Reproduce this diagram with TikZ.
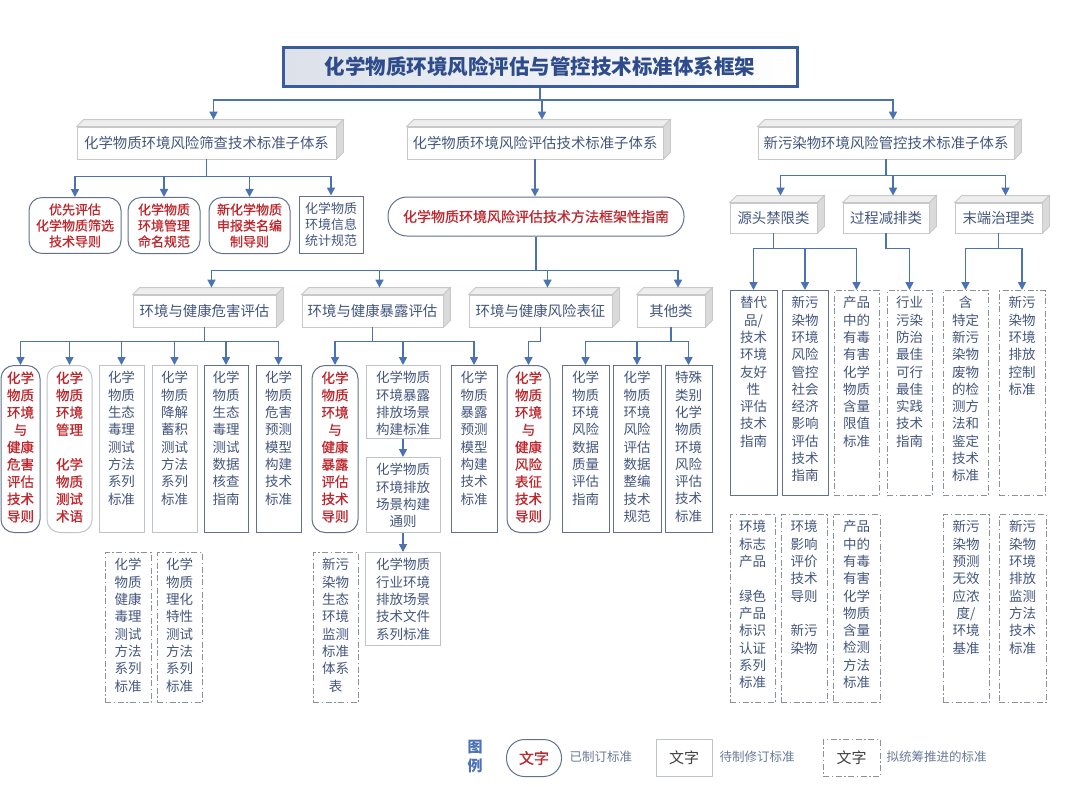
\documentclass[tikz,border=0pt]{standalone}
\usepackage{fontspec}
\setmainfont{Noto Sans CJK SC}
\newfontfamily\redfont{Noto Sans CJK SC}[FakeBold=0.7]
\usetikzlibrary{arrows.meta}

\definecolor{linkblue}{HTML}{4A72B4}
\definecolor{inkblue}{HTML}{44567E}
\definecolor{stdred}{HTML}{C0272D}
\definecolor{edgedark}{HTML}{62718F}
\definecolor{edgelight}{HTML}{BFC3CB}
\definecolor{edgeidea}{HTML}{8A909C}
\definecolor{slabedge}{HTML}{C8C8C8}
\definecolor{slabtop}{HTML}{EEEEEE}
\definecolor{slabside}{HTML}{DADADA}
\definecolor{titleblue}{HTML}{2E4C8C}
\definecolor{titleedge}{HTML}{3A5C9E}
\definecolor{titleshade}{HTML}{DCE1EA}
\definecolor{legendgray}{HTML}{6B7B98}

\newcommand{\boxfont}{\fontsize{13.5}{17.3}\selectfont}
\newcommand{\slabfont}{\fontsize{14.4}{17}\selectfont}
% tall column of text, top aligned: width, height, lines
\newcommand{\colcell}[3]{\parbox[t][#2pt][t]{#1pt}{\centering #3}}
% top and side faces of a raised header box
\newcommand{\slabfaces}[1]{%
  \filldraw[slabedge, fill=slabtop, line width=0.8pt] (#1.north west) -- ++(7,-7) -- ([shift={(7,-7)}]#1.north east) -- (#1.north east) -- cycle;
  \filldraw[slabedge, fill=slabside, line width=0.8pt] (#1.north east) -- ++(7,-7) -- ([shift={(7,-7)}]#1.south east) -- (#1.south east) -- cycle;}

\tikzset{
  every node/.style={font=\boxfont, text=inkblue},
  link/.style={draw=linkblue, line width=1.6pt, -{Triangle[width=8pt,length=8pt]}},
  linkslab/.style={link, shorten >=7pt},
  titlebox/.style={draw=titleedge, line width=3pt, left color=titleshade, right color=white,
    font=\fontsize{20.5}{24}\selectfont\bfseries, text=titleblue},
  slab/.style={draw=slabedge, line width=0.8pt, fill=white, font=\slabfont, text=inkblue, inner sep=0pt},
  stdbox/.style={draw=edgedark, line width=1pt, rounded corners=13pt, fill=white, text=stdred,
    execute at begin node=\redfont, inner xsep=0pt, inner ysep=6pt},
  planbox/.style={draw=edgelight, line width=1pt, fill=white, inner xsep=0pt, inner ysep=6pt},
  darkedge/.style={draw=edgedark},
  ideabox/.style={draw=edgeidea, line width=1pt, dash pattern=on 6pt off 2.5pt on 1.5pt off 2.5pt, fill=white, inner xsep=0pt, inner ysep=6pt},
}

\begin{document}
\begin{tikzpicture}[x=1pt,y=-1pt]
\useasboundingbox[fill=white] (0,0) rectangle (1080,793);

\node[titlebox, minimum width=514pt, minimum height=39pt] (title) at (540,66.5) {化学物质环境风险评估与管控技术标准体系框架};

% sub-systems
\node[slab, minimum width=259pt, minimum height=32pt] (l2a) at (206.5,143) {化学物质环境风险筛查技术标准子体系};
\node[slab, minimum width=256pt, minimum height=32pt] (l2b) at (535,143) {化学物质环境风险评估技术标准子体系};
\node[slab, minimum width=256pt, minimum height=32pt] (l2c) at (886,143) {新污染物环境风险管控技术标准子体系};
\slabfaces{l2a}
\slabfaces{l2b}
\slabfaces{l2c}

% screening
\node[stdbox, minimum width=92pt, minimum height=55pt, align=center, font=\fontsize{13}{16}\selectfont] (ls1) at (75,225.5) {优先评估\\化学物质筛选\\技术导则};
\node[stdbox, minimum width=72pt, minimum height=55pt, align=center, font=\fontsize{13}{16}\selectfont] (ls2) at (164,225.5) {化学物质\\环境管理\\命名规范};
\node[stdbox, minimum width=81pt, minimum height=55pt, align=center, font=\fontsize{13}{16}\selectfont] (ls3) at (249.5,225.5) {新化学物质\\申报类名编\\制导则};
\node[planbox, darkedge, minimum width=64pt, minimum height=57pt, align=center, font=\fontsize{13}{16}\selectfont] (ls4) at (331,224.5) {化学物质\\环境信息\\统计规范};

% assessment
\node[stdbox, rounded corners=19pt, minimum width=296pt, minimum height=39pt, font=\fontsize{14}{17}\selectfont] (g1) at (536,216.5) {化学物质环境风险评估技术方法框架性指南};

\node[slab, minimum width=143pt, minimum height=32pt] (l3a) at (204.5,311) {环境与健康危害评估};
\node[slab, minimum width=141pt, minimum height=32pt] (l3b) at (372.5,311) {环境与健康暴露评估};
\node[slab, minimum width=143pt, minimum height=32pt] (l3c) at (540.5,311) {环境与健康风险表征};
\node[slab, minimum width=68pt, minimum height=32pt] (l3d) at (671,311) {其他类};
\slabfaces{l3a}
\slabfaces{l3b}
\slabfaces{l3c}
\slabfaces{l3d}

\node[stdbox, anchor=north] (c1) at (20.5,365) {\colcell{39}{155}{化学\\物质\\环境\\与\\健康\\危害\\评估\\技术\\导则}};
\node[stdbox, draw=edgelight, anchor=north] (c2) at (69.5,365) {\colcell{45}{155}{化学\\物质\\环境\\管理\\ \mbox{}\\ 化学\\物质\\测试\\术语}};
\node[planbox, anchor=north] (c3) at (121.5,365) {\colcell{45}{155}{化学\\物质\\生态\\毒理\\测试\\方法\\系列\\标准}};
\node[planbox, anchor=north] (c4) at (174.5,365) {\colcell{45}{155}{化学\\物质\\降解\\蓄积\\测试\\方法\\系列\\标准}};
\node[planbox, darkedge, anchor=north] (c5) at (226,365) {\colcell{44}{155}{化学\\物质\\生态\\毒理\\测试\\数据\\核查\\指南}};
\node[planbox, darkedge, anchor=north] (c6) at (278.5,365) {\colcell{45}{155}{化学\\物质\\危害\\预测\\模型\\构建\\技术\\标准}};
\node[ideabox, anchor=north] (d1) at (128,552) {\colcell{46}{138}{化学\\物质\\健康\\毒理\\测试\\方法\\系列\\标准}};
\node[ideabox, anchor=north] (d2) at (179.5,552) {\colcell{45}{138}{化学\\物质\\理化\\特性\\测试\\方法\\系列\\标准}};

\node[stdbox, anchor=north] (e1) at (335,365) {\colcell{46}{155}{化学\\物质\\环境\\与\\健康\\暴露\\评估\\技术\\导则}};
\node[planbox, anchor=north] (e2) at (403,365) {\colcell{74}{61}{化学物质\\环境暴露\\排放场景\\构建标准}};
\node[planbox, anchor=north] (e3) at (403,457) {\colcell{74}{63}{化学物质\\环境排放\\场景构建\\通则}};
\node[planbox, anchor=north] (e5) at (403,552) {\colcell{75}{81}{化学物质\\行业环境\\排放场景\\技术文件\\系列标准}};
\node[planbox, darkedge, anchor=north] (e4) at (474,365) {\colcell{46}{155}{化学\\物质\\暴露\\预测\\模型\\构建\\技术\\标准}};
\node[ideabox, anchor=north] (d3) at (335.5,552) {\colcell{45}{138}{新污\\染物\\生态\\环境\\监测\\标准\\体系\\表}};

\node[stdbox, anchor=north] (r1) at (528.5,365) {\colcell{43}{155}{化学\\物质\\环境\\与\\健康\\风险\\表征\\技术\\导则}};

\node[planbox, darkedge, anchor=north] (o1) at (585.5,365) {\colcell{47}{155}{化学\\物质\\环境\\风险\\数据\\质量\\评估\\指南}};
\node[planbox, darkedge, anchor=north] (o2) at (637,365) {\colcell{48}{155}{化学\\物质\\环境\\风险\\评估\\数据\\整编\\技术\\规范}};
\node[planbox, darkedge, anchor=north] (o3) at (688.5,365) {\colcell{47}{155}{特殊\\类别\\化学\\物质\\环境\\风险\\评估\\技术\\标准}};

% emerging pollutants
\node[slab, minimum width=87pt, minimum height=30pt] (h1) at (773.5,218) {源头禁限类};
\node[slab, minimum width=86pt, minimum height=30pt] (h2) at (886,218) {过程减排类};
\node[slab, minimum width=87pt, minimum height=30pt] (h3) at (998.5,218) {末端治理类};
\slabfaces{h1}
\slabfaces{h2}
\slabfaces{h3}

\node[planbox, darkedge, anchor=north] (s1) at (753.5,290) {\colcell{47}{193}{替代\\品/\\技术\\环境\\友好\\性\\评估\\技术\\指南}};
\node[planbox, darkedge, anchor=north] (s2) at (805,290) {\colcell{46}{193}{新污\\染物\\环境\\风险\\管控\\社会\\经济\\影响\\评估\\技术\\指南}};
\node[ideabox, anchor=north] (s3) at (856.5,290) {\colcell{45}{193}{产品\\中的\\有毒\\有害\\化学\\物质\\含量\\限值\\标准}};
\node[ideabox, anchor=north] (p1) at (909.5,290) {\colcell{45}{193}{行业\\污染\\防治\\最佳\\可行\\最佳\\实践\\技术\\指南}};
\node[ideabox, anchor=north] (t1) at (965.5,290) {\colcell{45}{193}{含\\特定\\新污\\染物\\废物\\的检\\测方\\法和\\鉴定\\技术\\标准}};
\node[ideabox, anchor=north] (t2) at (1022,290) {\colcell{46}{193}{新污\\染物\\环境\\排放\\控制\\标准}};

\node[ideabox, anchor=north] (u1) at (752.5,514) {\colcell{45}{176}{环境\\标志\\产品\\ \mbox{}\\ 绿色\\产品\\标识\\认证\\系列\\标准}};
\node[ideabox, anchor=north] (u2) at (804,514) {\colcell{46}{176}{环境\\影响\\评价\\技术\\导则\\ \mbox{}\\ 新污\\染物}};
\node[ideabox, anchor=north] (u3) at (856.5,514) {\colcell{47}{176}{产品\\中的\\有毒\\有害\\化学\\物质\\含量\\检测\\方法\\标准}};
\node[ideabox, anchor=north] (u4) at (966,514) {\colcell{46}{176}{新污\\染物\\预测\\无效\\应浓\\度/\\环境\\基准}};
\node[ideabox, anchor=north] (u5) at (1022.5,514) {\colcell{47}{176}{新污\\染物\\环境\\排放\\监测\\方法\\技术\\标准}};

% connectors
\draw[linkslab] (title.south) -- ++(0,12.5) -| ([xshift=7pt]l2a.north);
\draw[linkslab] (title.south) -- ++(0,12.5) -| ([xshift=7pt]l2b.north);
\draw[linkslab] (title.south) -- ++(0,12.5) -| ([xshift=7pt]l2c.north);

\draw[link] (l2a.south) -- ++(0,17) -| (ls1.north);
\draw[link] (l2a.south) -- ++(0,17) -| (ls2.north);
\draw[link] (l2a.south) -- ++(0,17) -| (ls3.north);
\draw[link] (l2a.south) -- ++(0,17) -| (ls4.north);

\draw[link] (l2b.south) -- (l2b.south |- g1.north);
\draw[linkslab] (g1.south) -- ++(0,34) -| ([xshift=7pt]l3a.north);
\draw[linkslab] (g1.south) -- ++(0,34) -| ([xshift=7pt]l3b.north);
\draw[linkslab] (g1.south) -- ++(0,34) -| ([xshift=7pt]l3c.north);
\draw[linkslab] (g1.south) -- ++(0,34) -| ([xshift=7pt]l3d.north);

\draw[link] (l3a.south) -- ++(0,14) -| (c1.north);
\draw[link] (l3a.south) -- ++(0,14) -| (c2.north);
\draw[link] (l3a.south) -- ++(0,14) -| (c3.north);
\draw[link] (l3a.south) -- ++(0,14) -| (c4.north);
\draw[link] (l3a.south) -- ++(0,14) -| (c5.north);
\draw[link] (l3a.south) -- ++(0,14) -| (c6.north);

\draw[link] (l3b.south) -- ++(0,14) -| (e1.north);
\draw[link] (l3b.south) -- ++(0,14) -| (e2.north);
\draw[link] (l3b.south) -- ++(0,14) -| (e4.north);
\draw[link] (e2.south) -- (e3.north);
\draw[link] (e3.south) -- (e5.north);

\draw[link] (l3c.south) -- ++(0,14) -| (r1.north);

\draw[link] (l3d.south) -- ++(0,14) -| (o1.north);
\draw[link] (l3d.south) -- ++(0,14) -| (o2.north);
\draw[link] (l3d.south) -- ++(0,14) -| (o3.north);

\draw[linkslab] (l2c.south) -- ++(0,16) -| ([xshift=7pt]h1.north);
\draw[linkslab] (l2c.south) -- ++(0,16) -| ([xshift=7pt]h2.north);
\draw[linkslab] (l2c.south) -- ++(0,16) -| ([xshift=7pt]h3.north);

\draw[link] (h1.south) -- ++(0,15) -| (s1.north);
\draw[link] (h1.south) -- ++(0,15) -| (s2.north);
\draw[link] (h1.south) -- ++(0,15) -| (s3.north);
\draw[link] (h2.south) -- ++(0,15) -| (p1.north);
\draw[link] (h3.south) -- ++(0,15) -| (t1.north);
\draw[link] (h3.south) -- ++(0,15) -| (t2.north);

% legend
\node[font=\fontsize{15}{19}\selectfont\bfseries, text=linkblue, align=center] (legtitle) at (475,757) {图\\例};
\node[stdbox, rounded corners=18pt, minimum width=55pt, minimum height=37pt, font=\fontsize{15}{18}\selectfont] (leg1) at (534,758) {文字};
\node[font=\fontsize{12.5}{15}\selectfont, text=legendgray, anchor=west] (leg1t) at (566,757) {已制订标准};
\node[planbox, minimum width=56pt, minimum height=37pt, font=\fontsize{15}{18}\selectfont, text=black!75] (leg2) at (684,758) {文字};
\node[font=\fontsize{12.5}{15}\selectfont, text=legendgray, anchor=west] (leg2t) at (716,757) {待制修订标准};
\node[ideabox, minimum width=57pt, minimum height=37pt, font=\fontsize{15}{18}\selectfont, text=black!75] (leg3) at (851.5,758) {文字};
\node[font=\fontsize{12.5}{15}\selectfont, text=legendgray, anchor=west] (leg3t) at (883,757) {拟统筹推进的标准};
\end{tikzpicture}
\end{document}
